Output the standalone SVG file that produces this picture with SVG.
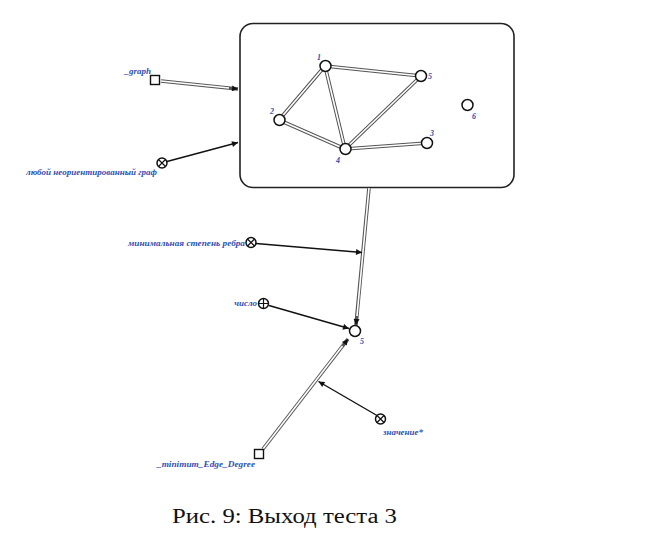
<svg xmlns="http://www.w3.org/2000/svg" width="658" height="552" viewBox="0 0 658 552">
<style>
.lbl{font-family:"Liberation Serif","DejaVu Serif",serif;font-style:italic;font-weight:bold;font-size:9px;fill:#2f4fb5}
.num{font-family:"Liberation Serif","DejaVu Serif",serif;font-style:italic;font-weight:bold;font-size:8px;fill:#2f4fb5}
.nd{fill:#fff;stroke:#111;stroke-width:1.5}
.dbo{fill:none;stroke:#555;stroke-width:3.6}
.dbi{fill:none;stroke:#fff;stroke-width:1.6}
.sgl{fill:none;stroke:#111;stroke-width:1.4}
.cap{font-family:"Liberation Serif","DejaVu Serif",serif;font-size:20px;fill:#111}
</style>
<defs>
<marker id="ah" viewBox="0 0 10 10" refX="10" refY="5" markerWidth="9" markerHeight="6" markerUnits="userSpaceOnUse" orient="auto">
<path d="M0,0 L10,5 L0,10 z" fill="#111"/>
</marker>
</defs>
<rect width="658" height="552" fill="#fff"/>

<g id="graphBox">
<rect x="240" y="23.5" width="274" height="164" rx="13" ry="13" fill="#fff" stroke="#222" stroke-width="1.6"/>
</g>

<g id="innerEdges">
<path class="dbo" d="M325,66 L421,76 M325,66 L279,120 M325,66 L345,149 M279,120 L345,149 M345,149 L421,76 M345,149 L427,143"/>
<path class="dbi" d="M325,66 L421,76 M325,66 L279,120 M325,66 L345,149 M279,120 L345,149 M345,149 L421,76 M345,149 L427,143"/>
</g>

<g id="v1"><circle class="nd" cx="325.5" cy="66" r="5.5"/><text class="num" x="317" y="60">1</text></g>
<g id="v5"><circle class="nd" cx="421" cy="76" r="5.5"/><text class="num" x="428" y="79">5</text></g>
<g id="v2"><circle class="nd" cx="279.5" cy="120" r="5.5"/><text class="num" x="270" y="114">2</text></g>
<g id="v4"><circle class="nd" cx="345.5" cy="149" r="5.5"/><text class="num" x="336" y="163">4</text></g>
<g id="v3"><circle class="nd" cx="427" cy="143" r="5.5"/><text class="num" x="430" y="136">3</text></g>
<g id="v6"><circle class="nd" cx="467.5" cy="105" r="5.5"/><text class="num" x="472" y="119">6</text></g>

<g id="connectors">
<path class="dbo" d="M161,81 L238,89" marker-end="url(#ah)"/>
<path class="dbi" d="M161,81 L229,88"/>
<path class="sgl" d="M167,161.5 L238,142.5" marker-end="url(#ah)"/>
<path class="dbo" d="M369,188 L356,325" marker-end="url(#ah)"/>
<path class="dbi" d="M369,188 L357,316"/>
<path class="sgl" d="M256,243.5 L362,252.5" marker-end="url(#ah)"/>
<path class="sgl" d="M269,305.5 L349,328.5" marker-end="url(#ah)"/>
<path class="dbo" d="M263,449 L348,339" marker-end="url(#ah)"/>
<path class="dbi" d="M263,449 L342.5,346"/>
<path class="sgl" d="M377,415.5 L318.5,381.5" marker-end="url(#ah)"/>
</g>

<g id="graphVar">
<rect x="150.5" y="75.5" width="9" height="9" fill="#fff" stroke="#111" stroke-width="1.4"/>
<text class="lbl" x="151" y="74" text-anchor="end">_graph</text>
</g>
<g id="anyGraph">
<circle class="nd" cx="162" cy="163" r="5"/>
<path d="M158.5,159.5 L165.5,166.5 M165.5,159.5 L158.5,166.5" stroke="#111" stroke-width="1.2"/>
<text class="lbl" x="26" y="175" textLength="131" lengthAdjust="spacingAndGlyphs">любой неориентированный граф</text>
</g>
<g id="minDegree">
<circle class="nd" cx="251" cy="242.5" r="5"/>
<path d="M247.5,239 L254.5,246 M254.5,239 L247.5,246" stroke="#111" stroke-width="1.2"/>
<text class="lbl" x="128" y="246" textLength="117" lengthAdjust="spacingAndGlyphs">минимальная степень ребра</text>
</g>
<g id="number">
<circle class="nd" cx="263.5" cy="303.5" r="5"/>
<path d="M263.5,298.5 L263.5,308.5 M258.5,303.5 L268.5,303.5" stroke="#111" stroke-width="1.2"/>
<text class="lbl" x="257" y="306" text-anchor="end">число</text>
</g>
<g id="result">
<circle class="nd" cx="355" cy="331" r="5.5"/>
<text class="num" x="360" y="344">5</text>
</g>
<g id="minEdgeVar">
<rect x="254.5" y="449.5" width="9" height="9" fill="#fff" stroke="#111" stroke-width="1.4"/>
<text class="lbl" x="157" y="467" textLength="98" lengthAdjust="spacingAndGlyphs">_minimum_Edge_Degree</text>
</g>
<g id="value">
<circle class="nd" cx="380.5" cy="419" r="5"/>
<path d="M377,415.5 L384,422.5 M384,415.5 L377,422.5" stroke="#111" stroke-width="1.2"/>
<text class="lbl" x="383" y="435">значение*</text>
</g>

<text class="cap" x="172" y="523" textLength="225" lengthAdjust="spacingAndGlyphs">Рис. 9: Выход теста 3</text>
</svg>
